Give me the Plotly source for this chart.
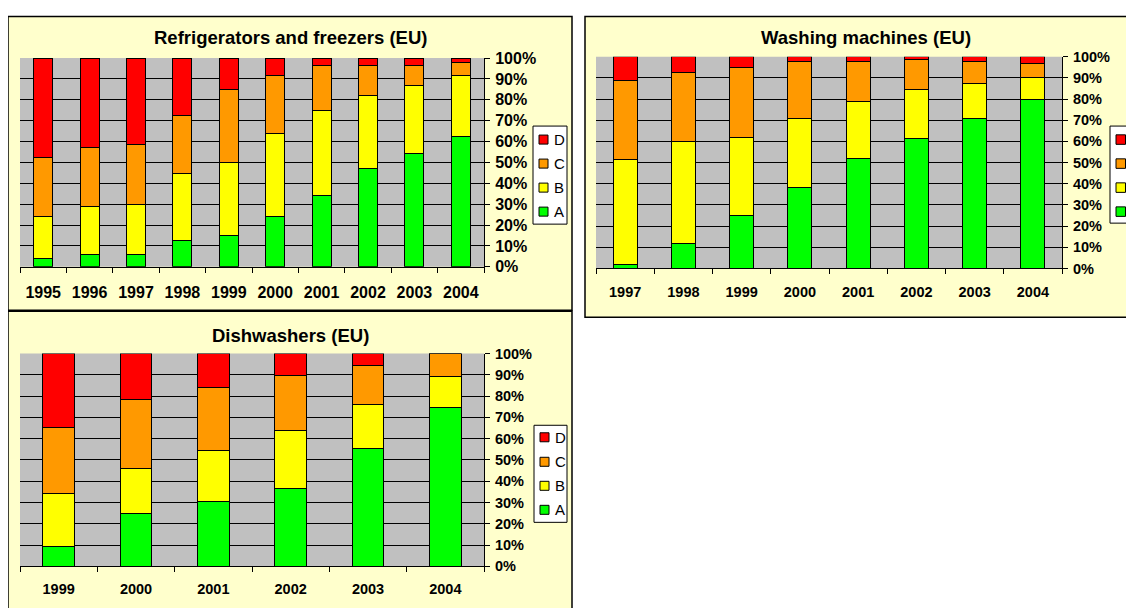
import plotly.graph_objects as go

# Observed placement of the figure in the screenshot: offset and vertical scale
OX, OY, SY = 8, 16, 0.9715
FW, FH = 1134, 610

series = ["A", "B", "C", "D"]
series_colors = ["#00FF00", "#FFFF00", "#FF9900", "#FF0000"]

# Refrigerators and freezers (EU) - shares in %
fridge_years = ["1995", "1996", "1997", "1998", "1999", "2000", "2001", "2002", "2003", "2004"]
fridge_A = [3.8, 6.0, 6.0, 12.8, 15.0, 24.0, 34.0, 47.2, 54.4, 62.2]
fridge_B = [20.2, 22.8, 24.0, 32.0, 35.0, 40.0, 40.9, 35.0, 32.3, 29.5]
fridge_C = [28.5, 28.5, 28.7, 27.7, 34.8, 27.8, 21.4, 14.1, 9.9, 6.1]
fridge_D = [47.5, 42.7, 41.3, 27.5, 15.2, 8.2, 3.7, 3.7, 3.4, 2.2]

# Washing machines (EU)
wash_years = ["1997", "1998", "1999", "2000", "2001", "2002", "2003", "2004"]
wash_A = [1.9, 12.0, 24.9, 38.3, 51.7, 61.6, 71.0, 79.7]
wash_B = [49.6, 47.8, 36.8, 32.7, 27.3, 22.7, 16.4, 10.5]
wash_C = [37.5, 32.8, 33.1, 26.6, 18.6, 14.4, 10.2, 6.8]
wash_D = [11.0, 7.4, 5.2, 2.4, 2.4, 1.3, 2.4, 3.0]

# Dishwashers (EU)
dish_years = ["1999", "2000", "2001", "2002", "2003", "2004"]
dish_A = [9.4, 24.9, 30.7, 36.5, 55.3, 74.5]
dish_B = [24.6, 21.0, 23.7, 27.3, 20.9, 14.5]
dish_C = [31.2, 32.5, 29.5, 25.9, 18.2, 11.0]
dish_D = [34.8, 21.6, 16.1, 10.3, 5.6, 0.0]

y_ticks = [0, 10, 20, 30, 40, 50, 60, 70, 80, 90, 100]
y_tick_labels = [f"{v}%" for v in y_ticks]

FONT = "Arial, Liberation Sans, sans-serif"


def px(x):
    return (x - OX) / FW


def py(y):
    yf = (y - OY) / SY
    return 1 - yf / FH


fig = go.Figure()

charts = [
    ("Refrigerators and freezers (EU)", fridge_years, [fridge_A, fridge_B, fridge_C, fridge_D]),
    ("Washing machines (EU)", wash_years, [wash_A, wash_B, wash_C, wash_D]),
    ("Dishwashers (EU)", dish_years, [dish_A, dish_B, dish_C, dish_D]),
]

for i, (title, years, vals) in enumerate(charts):
    sfx = "" if i == 0 else str(i + 1)
    for name, color, v in zip(series, series_colors, vals):
        fig.add_trace(go.Bar(
            x=years, y=v, name=name, xaxis="x" + sfx, yaxis="y" + sfx,
            marker=dict(color=color, line=dict(color="black", width=1)),
            showlegend=False, hovertemplate="%{x} " + name + ": %{y}%<extra></extra>",
        ))

# panel layout in target pixel coordinates
panels = [
    dict(box=(8, 16.6, 572, 310), plot=(20, 58, 484, 266.7), title_xy=(290, 37), tick=16, xstand=11,
         legend=dict(box=(533, 126, 567, 224), sw_x=(539, 548), text_x=551.5, ys=[139.5, 163.5, 187.5, 211.5])),
    dict(box=(585, 16.6, 1145, 317), plot=(596, 56.7, 1062, 268.3), title_xy=(866, 37), tick=14.5, xstand=10,
         legend=dict(box=(1110, 126, 1150, 223), sw_x=(1116, 1125.5), text_x=1128, ys=[139.5, 163.5, 187.5, 211.5])),
    dict(box=(8, 311, 572, 625), plot=(20, 353.3, 484, 566), title_xy=(290.5, 335), tick=14.5, xstand=9,
         legend=dict(box=(534, 425, 567, 522), sw_x=(540, 549), text_x=552.5, ys=[437, 461.5, 485.5, 509.5])),
]

shapes = []
annotations = []
layout_axes = {}

for i, ((title, years, vals), p) in enumerate(zip(charts, panels)):
    sfx = "" if i == 0 else str(i + 1)
    bx0, by0, bx1, by1 = p["box"]
    shapes.append(dict(type="rect", xref="paper", yref="paper", layer="below",
                       x0=px(bx0), x1=px(bx1), y0=py(by1), y1=py(by0),
                       fillcolor="#FFFFCC", line=dict(color="black", width=1.5)))
    x0, y0, x1, y1 = p["plot"]
    shapes.append(dict(type="rect", xref="paper", yref="paper", layer="below",
                       x0=px(x0), x1=px(x1), y0=py(y1), y1=py(y0),
                       fillcolor="#C0C0C0", line=dict(width=0)))
    layout_axes["xaxis" + sfx] = dict(
        domain=[px(x0), px(x1)], anchor="y" + sfx, type="category",
        showgrid=False, showline=True, linecolor="black", linewidth=1,
        ticks="outside", tickson="boundaries", ticklen=5, tickcolor="black",
        tickfont=dict(family=FONT, size=p["tick"], color="black", weight="bold"),
        ticklabelstandoff=p["xstand"], fixedrange=True,
    )
    layout_axes["yaxis" + sfx] = dict(
        domain=[py(y1), py(y0)], anchor="x" + sfx, side="right",
        range=[0, 100], tickmode="array", tickvals=y_ticks, ticktext=y_tick_labels,
        showgrid=True, gridcolor="black", gridwidth=1,
        showline=True, linecolor="black", linewidth=1,
        ticks="outside", ticklen=5, tickcolor="black",
        tickfont=dict(family=FONT, size=p["tick"], color="black", weight="bold"),
        ticklabelstandoff=2, zeroline=False, fixedrange=True,
    )
    tx, ty = p["title_xy"]
    annotations.append(dict(text="<b>" + title + "</b>", x=px(tx), y=py(ty), xref="paper", yref="paper",
                            xanchor="center", yanchor="middle", showarrow=False,
                            font=dict(family=FONT, size=18.5, color="black")))
    # legend (D, C, B, A from top)
    lg = p["legend"]
    lx0, ly0, lx1, ly1 = lg["box"]
    shapes.append(dict(type="rect", xref="paper", yref="paper",
                       x0=px(lx0), x1=px(lx1), y0=py(ly1), y1=py(ly0),
                       fillcolor="white", line=dict(color="black", width=1)))
    for name, color, yc in zip(series[::-1], series_colors[::-1], lg["ys"]):
        sx0, sx1 = lg["sw_x"]
        half = (sx1 - sx0) / 2
        shapes.append(dict(type="rect", xref="paper", yref="paper",
                           x0=px(sx0), x1=px(sx1), y0=py(yc + half), y1=py(yc - half),
                           fillcolor=color, line=dict(color="black", width=1)))
        annotations.append(dict(text=name, x=px(lg["text_x"]), y=py(yc), xref="paper", yref="paper",
                                xanchor="left", yanchor="middle", showarrow=False,
                                font=dict(family=FONT, size=15, color="black")))

fig.update_layout(
    width=FW, height=FH, margin=dict(l=0, r=0, t=0, b=0),
    paper_bgcolor="white", plot_bgcolor="rgba(0,0,0,0)",
    barmode="stack", bargap=0.59,
    showlegend=False,
    shapes=shapes, annotations=annotations,
    font=dict(family=FONT, color="black"),
    **layout_axes,
)

fig.write_html("out.html")
